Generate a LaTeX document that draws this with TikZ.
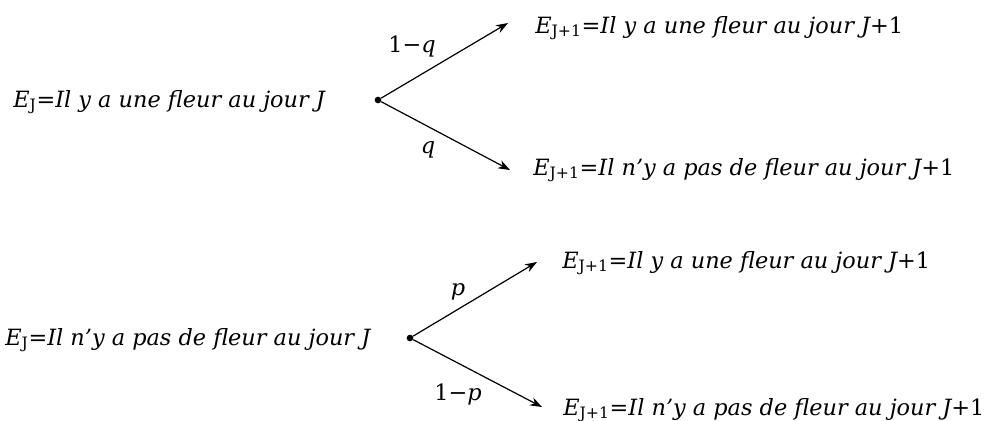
\documentclass[tikz,border=0pt]{standalone}
\usepackage{fontspec}
\setmainfont{DejaVu Serif}
\usetikzlibrary{arrows.meta}

\begin{document}
\begin{tikzpicture}[x=0.75pt, y=-0.75pt, font=\fontsize{16.8}{20}\selectfont\itshape]
	% Define styles
	\tikzstyle{etat} = [anchor=west, inner sep=0pt]
	\tikzstyle{point} = [circle, fill=black, inner sep=0pt, minimum size=5pt]
	\tikzstyle{proba} = [inner sep=0pt]
	\tikzstyle{branche} = [-{Stealth[length=9pt, width=6.5pt]}, line width=0.9pt]

	\useasboundingbox (0,0) rectangle (985,421);

	% Nodes (fleur au jour J)
	\node[etat] (fleur) at (13,102) {E\textsubscript{\upshape J}=Il y a une fleur au jour J};
	\node[point] (p1) at (378,100) {};
	\coordinate (h1) at (508,23);
	\coordinate (b1) at (510,170);
	\node[etat] (fleur1) at (535,28) {E\textsubscript{\upshape J+1}=Il y a une fleur au jour J{\upshape +1}};
	\node[etat] (sans1) at (533,170) {E\textsubscript{\upshape J+1}=Il n'y a pas de fleur au jour J{\upshape +1}};
	\node[proba] (q1) at (412,47) {{\upshape 1−}q};
	\node[proba] (q2) at (428,150) {q};

	% Nodes (pas de fleur au jour J)
	\node[etat] (sans) at (5,340) {E\textsubscript{\upshape J}=Il n'y a pas de fleur au jour J};
	\node[point] (p2) at (410,338) {};
	\coordinate (h2) at (537,262);
	\coordinate (b2) at (542,407);
	\node[etat] (fleur2) at (562,263) {E\textsubscript{\upshape J+1}=Il y a une fleur au jour J{\upshape +1}};
	\node[etat] (sans2) at (563,410) {E\textsubscript{\upshape J+1}=Il n'y a pas de fleur au jour J{\upshape +1}};
	\node[proba] (pp1) at (458,292) {p};
	\node[proba] (pp2) at (458,395) {{\upshape 1−}p};

	% Arrows
	\draw[branche] (p1) -- (h1);
	\draw[branche] (p1) -- (b1);
	\draw[branche] (p2) -- (h2);
	\draw[branche] (p2) -- (b2);
\end{tikzpicture}
\end{document}
